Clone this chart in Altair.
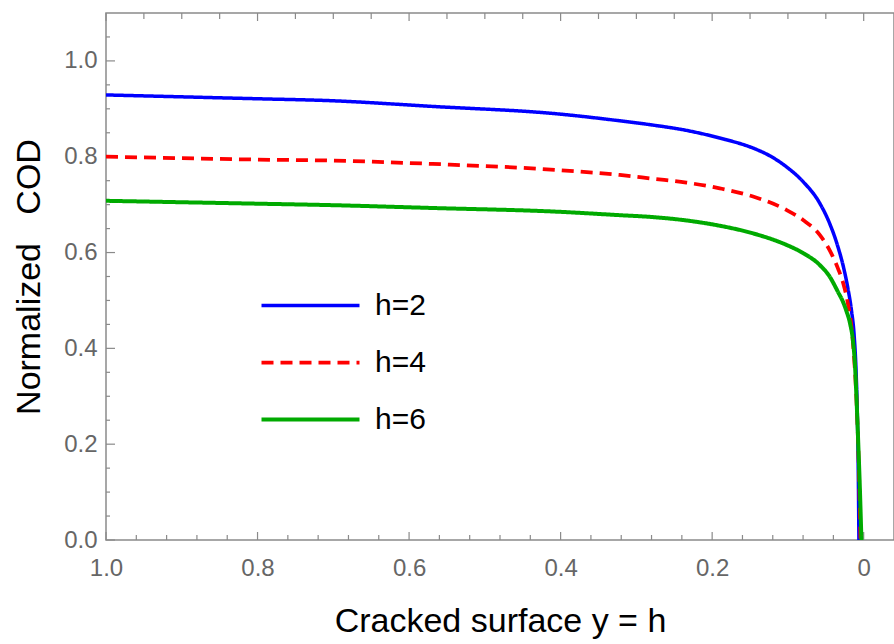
import altair as alt
import pandas as pd

# ---- data ----
series = ["h=2", "h=4", "h=6"]

h2_x = [1.0, 0.9, 0.8, 0.704, 0.569, 0.401, 0.322, 0.278, 0.234, 0.190, 0.146, 0.124,
        0.102, 0.080, 0.058, 0.045, 0.034, 0.026, 0.0207, 0.0162, 0.0125, 0.0100, 0.0085,
        0.0072, 0.0063]
h2_y = [0.929, 0.925, 0.921, 0.917, 0.905, 0.889, 0.875, 0.866, 0.855, 0.839, 0.818, 0.802,
        0.779, 0.748, 0.703, 0.661, 0.612, 0.565, 0.524, 0.480, 0.425, 0.350, 0.270,
        0.150, 0.0]

h4_x = [1.0, 0.9, 0.8, 0.704, 0.569, 0.401, 0.322, 0.278, 0.234, 0.190, 0.146, 0.102,
        0.080, 0.058, 0.045, 0.034, 0.027, 0.0207, 0.0141, 0.0096, 0.0064, 0.0042]
h4_y = [0.800, 0.797, 0.794, 0.792, 0.785, 0.772, 0.762, 0.754, 0.746, 0.734, 0.717, 0.689,
        0.668, 0.637, 0.605, 0.567, 0.536, 0.492, 0.411, 0.295, 0.153, 0.0]

h6_x = [1.0, 0.9, 0.8, 0.704, 0.569, 0.401, 0.322, 0.278, 0.234, 0.190, 0.146, 0.102,
        0.080, 0.058, 0.045, 0.034, 0.027, 0.0228, 0.018, 0.0141, 0.0115, 0.0096, 0.0075,
        0.0053, 0.003]
h6_y = [0.708, 0.705, 0.702, 0.699, 0.693, 0.685, 0.678, 0.674, 0.667, 0.656, 0.640, 0.616,
        0.599, 0.574, 0.550, 0.518, 0.496, 0.478, 0.452, 0.415, 0.365, 0.300, 0.215,
        0.120, 0.0]

colors = ["#0000ff", "#ff0000", "#00aa00"]
dashes = [[1, 0], [12, 7], [1, 0]]
widths = [3.5, 4, 5]

x_major = [1.0, 0.8, 0.6, 0.4, 0.2, 0.0]
x_bottom_minor = [0.96, 0.92, 0.88, 0.84, 0.76, 0.72, 0.68, 0.64, 0.56, 0.52, 0.48, 0.44,
                  0.36, 0.32, 0.28, 0.24, 0.16, 0.12, 0.08, 0.04]
x_top_minor = [0.95, 0.9, 0.85, 0.75, 0.7, 0.65, 0.55, 0.5, 0.45, 0.35, 0.3, 0.25,
               0.15, 0.1, 0.05]
y_major = [0.0, 0.2, 0.4, 0.6, 0.8, 1.0]
y_minor = [0.05, 0.1, 0.15, 0.25, 0.3, 0.35, 0.45, 0.5, 0.55, 0.65, 0.7, 0.75,
           0.85, 0.9, 0.95, 1.05]

rows = []
for name, xs, ys in zip(series, [h2_x, h4_x, h6_x], [h2_y, h4_y, h6_y]):
    for xv, yv in zip(xs, ys):
        rows.append({"y_surface": xv, "cod": yv, "h": name})
df = pd.DataFrame(rows)

FONT = "Liberation Sans"
GRAY = "#8a8a8a"
W, H = 788, 527

x_scale = alt.Scale(domain=[-0.04, 1.0], reverse=True, nice=False, zero=False)
y_scale = alt.Scale(domain=[0, 1.1], nice=False, zero=False)

x_axis = alt.Axis(values=x_major, title="Cracked surface y = h",
                  labelExpr="datum.value == 0 ? '0' : format(datum.value, '.1f')",
                  ticks=False, domain=False, grid=False, labelFlush=False,
                  labelFont=FONT, labelFontSize=24, labelColor="#666666", labelPadding=16,
                  titleFont=FONT, titleFontSize=34, titleColor="#000000",
                  titleFontWeight="normal", titlePadding=24)
y_axis = alt.Axis(values=y_major, title="Normalized\u00a0\u00a0\u00a0COD", format=".1f",
                  ticks=False, domain=False, grid=False, labelFlush=False,
                  labelFont=FONT, labelFontSize=24, labelColor="#666666", labelPadding=9,
                  titleFont=FONT, titleFontSize=34, titleColor="#000000",
                  titleFontWeight="normal", titlePadding=17)

X = alt.X("y_surface:Q", scale=x_scale, axis=x_axis)
Y = alt.Y("cod:Q", scale=y_scale, axis=y_axis)

lines = alt.Chart(df).mark_line(interpolate="monotone", clip=True).encode(
    x=X, y=Y,
    color=alt.Color("h:N", scale=alt.Scale(domain=series, range=colors), legend=alt.Legend(title=None)),
    strokeDash=alt.StrokeDash("h:N", scale=alt.Scale(domain=series, range=dashes), legend=alt.Legend(title=None)),
    strokeWidth=alt.StrokeWidth("h:N", scale=alt.Scale(domain=series, range=widths), legend=alt.Legend(title=None)),
)


def xticks(values, y0, y1):
    d = pd.DataFrame({"y_surface": values})
    return alt.Chart(d).mark_rule(color=GRAY, strokeWidth=1.2).encode(
        x=X, y=alt.value(y0), y2=alt.value(y1))


def yticks(values, length):
    d = pd.DataFrame({"cod": values})
    return alt.Chart(d).mark_rule(color=GRAY, strokeWidth=1.2).encode(
        y=Y, x=alt.value(0), x2=alt.value(length))


chart = alt.layer(
    xticks(x_major, H, H - 8),
    xticks(x_bottom_minor, H, H - 5),
    xticks(x_major, 0, 8),
    xticks(x_top_minor, 0, 6),
    yticks(y_major, 9),
    yticks(y_minor, 4),
    lines,
).properties(
    width=W, height=H,
    autosize=alt.AutoSizeParams(type="none"),
    padding={"left": 106, "top": 13, "right": 0, "bottom": 104},
).configure_view(
    stroke=GRAY, strokeWidth=1.5
).configure_legend(
    orient="none", legendX=186, legendY=274,
    symbolType="M-3,0H3", symbolSize=1067, labelFont=FONT, labelFontSize=30,
    labelColor="#000000", labelOffset=46, rowPadding=23,
)

chart.save("out.html", embed_options={"renderer": "svg", "actions": False})
